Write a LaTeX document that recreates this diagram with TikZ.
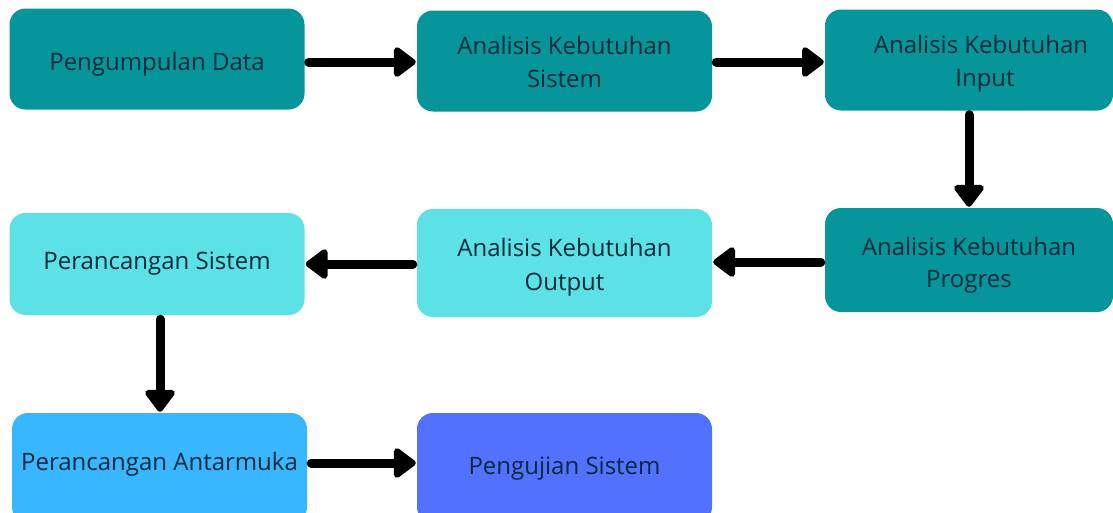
\documentclass[tikz,border=0pt]{standalone}
\usepackage{fontspec}
\setmainfont{Open Sans}
\usetikzlibrary{arrows.meta}
\definecolor{tealbox}{HTML}{05959B}
\definecolor{cyanbox}{HTML}{5CE1E6}
\definecolor{skybox}{HTML}{38B6FF}
\definecolor{indigobox}{HTML}{5271FF}
\definecolor{ink}{HTML}{0B2A3A}
\newcommand{\topstrut}[1]{\rule{0pt}{#1}}
\tikzset{
  box/.style={rectangle, rounded corners=16pt, draw=none, minimum width=295pt,
    minimum height=101pt, align=center, text=ink, inner sep=0pt,
    font=\fontsize{24}{33}\selectfont,
    execute at begin node=\rule{0pt}{25pt}, execute at end node=\vphantom{g}},
  arr/.style={line width=9pt, line cap=round,
    -{Triangle[length=24pt, width=34pt, round]}, shorten <=4pt, shorten >=1pt}
}
\begin{document}
\begin{tikzpicture}[x=1pt, y=-1pt]
\useasboundingbox (0,0) rectangle (1113,512);
\fill[white] (0,0) rectangle (1113,512);
% first row
\node[box, fill=tealbox] (b1) at (157,59) {\raisebox{-3pt}{Pengumpulan Data}};
\node[box, fill=tealbox] (b2) at (564.5,61) {\topstrut{26pt}Analisis Kebutuhan\\Sistem};
\node[box, fill=tealbox, minimum width=288pt] (b3) at (969,60) {\topstrut{26pt}\hspace*{24pt}Analisis Kebutuhan\\\hspace*{32pt}Input};
% second row
\node[box, fill=tealbox, minimum width=288pt, minimum height=104pt] (b6) at (969,260) {\topstrut{28pt}Analisis Kebutuhan\\[-1pt]Progres};
\node[box, fill=cyanbox, minimum height=108pt] (b5) at (564.5,263) {\topstrut{26pt}Analisis Kebutuhan\\[1pt]Output};
\node[box, fill=cyanbox, minimum height=102pt] (b4) at (157,264) {\raisebox{4pt}{Perancangan Sistem}};
% third row
\node[box, fill=skybox, minimum height=110pt] (b7) at (159.5,468) {\raisebox{7pt}{Perancangan Antarmuka}};
\node[box, fill=indigobox, minimum height=110pt] (b8) at (564.5,468) {\raisebox{3pt}{Pengujian Sistem}};
% connectors
\draw[arr] ([yshift=-3pt]b1.east) -- ([yshift=-3pt]b1.east -| b2.west);
\draw[arr] ([yshift=-1pt]b2.east) -- ([yshift=-1pt]b2.east -| b3.west);
\draw[arr] (b3.south) -- (b6.north);
\draw[arr] ([yshift=-2pt]b6.west) -- ([yshift=-2pt]b6.west -| b5.east);
\draw[arr] ([yshift=-1pt]b5.west) -- ([yshift=-1pt]b5.west -| b4.east);
\draw[arr] ([xshift=3pt]b4.south) -- ([xshift=3pt]b4.south |- b7.north);
\draw[arr] ([yshift=5pt]b7.east) -- ([yshift=5pt]b7.east -| b8.west);
\end{tikzpicture}
\end{document}
